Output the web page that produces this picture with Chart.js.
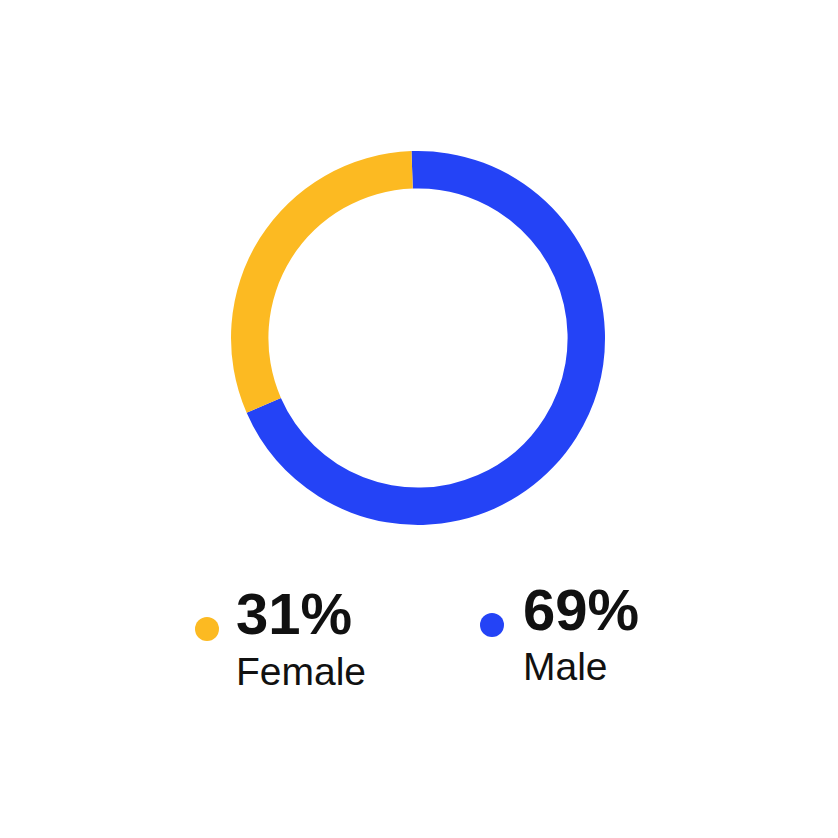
<!DOCTYPE html>
<html>
<head>
<meta charset="utf-8">
<script src="https://cdn.jsdelivr.net/npm/chart.js@4"></script>
<style>
  html, body { margin:0; padding:0; background:#fff; }
  body { width:838px; height:838px; position:relative; overflow:hidden; font-family:"Liberation Sans", Arial, sans-serif; }
  #wrap { position:absolute; left:228px; top:148px; width:380px; height:380px; }
  .dot { position:absolute; width:24px; height:24px; border-radius:50%; }
  .pct { position:absolute; font-weight:bold; font-size:58px; color:#111; line-height:1; }
  .lab { position:absolute; font-size:39px; color:#111; line-height:1; }
</style>
</head>
<body>
<div id="wrap"><canvas id="c" width="380" height="380"></canvas></div>
<div id="legend"></div>
<script>
const categories = ["Male", "Female"];
const values = [69, 31];
const colors = ["#2443F6", "#FCBA22"];
const legendOrder = [1, 0];

new Chart(document.getElementById('c'), {
  type: 'doughnut',
  data: {
    labels: categories,
    datasets: [{ data: values, backgroundColor: colors, borderWidth: 0 }]
  },
  options: {
    responsive: false,
    animation: false,
    radius: 187,
    cutout: '80%',
    rotation: -2,
    plugins: { legend: { display: false }, tooltip: { enabled: false } }
  }
});

const pos = [
  { dotX: 195, dotY: 617, textX: 236, pctTop: 585, labTop: 652 },
  { dotX: 480, dotY: 613, textX: 523, pctTop: 581, labTop: 647 }
];
const lg = document.getElementById('legend');
legendOrder.forEach((idx, i) => {
  const p = pos[i];
  const d = document.createElement('div');
  d.className = 'dot';
  d.style.left = p.dotX + 'px'; d.style.top = p.dotY + 'px';
  d.style.background = colors[idx];
  lg.appendChild(d);
  const t = document.createElement('div');
  t.className = 'pct';
  t.style.left = p.textX + 'px'; t.style.top = p.pctTop + 'px';
  t.textContent = values[idx] + '%';
  lg.appendChild(t);
  const l = document.createElement('div');
  l.className = 'lab';
  l.style.left = p.textX + 'px'; l.style.top = p.labTop + 'px';
  l.textContent = categories[idx];
  lg.appendChild(l);
});
</script>
</body>
</html>
